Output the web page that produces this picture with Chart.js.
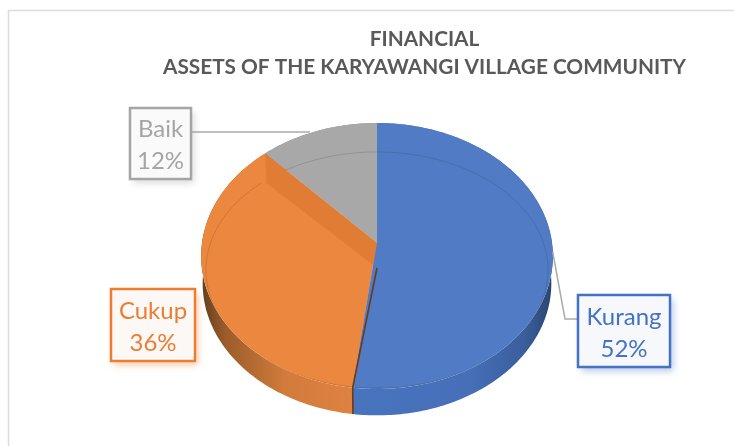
<!DOCTYPE html>
<html>
<head>
<meta charset="utf-8">
<style>
  html, body { margin: 0; padding: 0; background: #fff; }
  #wrap { width: 734px; height: 446px; position: relative; }
</style>
<script src="https://cdn.jsdelivr.net/npm/chart.js@4/dist/chart.umd.js"></script>
</head>
<body>
<div id="wrap"><canvas id="myChart" width="734" height="446"></canvas></div>
<script>
const categories = ["Kurang", "Cukup", "Baik"];
const shares = [52, 36, 12];
const titleLines = ["FINANCIAL", "ASSETS OF THE KARYAWANGI VILLAGE COMMUNITY"];

const sliceColors = ["#517CC5", "#EC8740", "#A8A8A8"];
const textColors = ["#4472C4", "#ED7D31", "#A5A5A5"];
const boxFills = ["#F6F8FC", "#FCF8F6", "#FAFAFA"];
// label boxes: left, top, right, bottom
const boxes = [[578, 295, 670, 367], [111, 289, 195, 361], [130, 108, 191, 179]];

// top face of the pie, seen in perspective
const topFace = { cx: 377, y0: 243, rx: 175, ry: 131.7, p: -0.0977, shift: 0 };
const innerFace = { cx: 377, y0: 268, rx: 171, ry: 118, p: -0.017, shift: 0 };
const bottomFace = { cx: 377, y0: 243, rx: 173.5, ry: 130.7, p: -0.0977, shift: 27.5 };

function project(face, angle) {
  let u = Math.cos(angle), v = Math.sin(angle);
  let w = 1 + face.p * v;
  return [face.cx + face.rx * u / w, face.y0 + face.shift + face.ry * v / w];
}

function arcPoints(face, a0, a1) {
  let pts = [];
  let n = Math.max(2, Math.ceil((a1 - a0) * 60));
  for (let i = 0; i <= n; i++) {
    pts.push(project(face, a0 + (a1 - a0) * i / n));
  }
  return pts;
}

function tracePts(ctx, pts) {
  pts.forEach((pt, i) => {
    if (i === 0) ctx.moveTo(pt[0], pt[1]);
    else ctx.lineTo(pt[0], pt[1]);
  });
}

function hGradient(ctx, stops) {
  let g = ctx.createLinearGradient(200, 0, 555, 0);
  stops.forEach((s) => g.addColorStop((s[0] - 200) / 355, s[1]));
  return g;
}

const pie3d = {
  id: "pie3d",
  beforeDraw(chart) {
    let ctx = chart.ctx;
    ctx.save();
    ctx.strokeStyle = "#DCDCDC";
    ctx.lineWidth = 1.5;
    ctx.beginPath();
    ctx.moveTo(8.5, 446);
    ctx.lineTo(8.5, 10.5);
    ctx.lineTo(734, 10.5);
    ctx.stroke();
    ctx.restore();
  },
  beforeDatasetDraw(chart, args) {
    let ctx = chart.ctx;
    let arcs = args.meta.data;
    let apex = [topFace.cx, topFace.y0];
    let innerApex = [innerFace.cx, innerFace.y0];

    ctx.save();

    // side wall
    let wallFills = [
      hGradient(ctx, [[356, "#4874BE"], [470, "#466FB8"], [525, "#3A5E9C"], [553, "#2A4470"]]),
      hGradient(ctx, [[200, "#5E3C1C"], [225, "#9A5C2A"], [285, "#D27B3B"], [356, "#DF8242"]]),
      "#8C8C8C"
    ];
    arcs.forEach((arc, i) => {
      ctx.beginPath();
      tracePts(ctx, arcPoints(topFace, arc.startAngle, arc.endAngle)
        .concat(arcPoints(bottomFace, arc.startAngle, arc.endAngle).reverse()));
      ctx.closePath();
      ctx.fillStyle = wallFills[i];
      ctx.fill();
    });

    // top faces, blue last so it covers the seam
    [2, 1, 0].forEach((i) => {
      let arc = arcs[i];
      ctx.beginPath();
      tracePts(ctx, [apex].concat(arcPoints(topFace, arc.startAngle, arc.endAngle)));
      ctx.closePath();
      ctx.fillStyle = sliceColors[i];
      ctx.fill();
    });

    let blueEnd = project(topFace, arcs[0].endAngle);
    let blueLow = project(bottomFace, arcs[0].endAngle);
    let orangeEnd = project(topFace, arcs[1].endAngle);
    let orangeInner = project(innerFace, arcs[1].endAngle);

    // cut face of the orange slice behind the apex
    ctx.beginPath();
    tracePts(ctx, [orangeEnd, apex, innerApex, [orangeInner[0] + 5, orangeInner[1]]]);
    ctx.closePath();
    ctx.fillStyle = "#E17C35";
    ctx.fill();

    // blue covers the step at the apex
    ctx.beginPath();
    tracePts(ctx, [apex, innerApex, blueEnd]);
    ctx.closePath();
    ctx.fillStyle = sliceColors[0];
    ctx.fill();

    // dark cut face between blue and orange
    ctx.beginPath();
    tracePts(ctx, [innerApex, blueEnd, blueLow]);
    ctx.strokeStyle = "#6A3C16";
    ctx.lineWidth = 1.6;
    ctx.stroke();

    // thin rim line of the inner face, kept inside each slice
    arcs.forEach((arc, i) => {
      ctx.save();
      ctx.beginPath();
      tracePts(ctx, [apex].concat(arcPoints(topFace, arc.startAngle, arc.endAngle)));
      ctx.closePath();
      ctx.clip();
      ctx.beginPath();
      tracePts(ctx, arcPoints(innerFace, arc.startAngle, arc.endAngle));
      ctx.strokeStyle = "rgba(40,40,40,0.2)";
      ctx.lineWidth = 0.8;
      ctx.stroke();
      ctx.restore();
    });

    ctx.restore();
    return false;
  },
  afterDatasetsDraw(chart) {
    let ctx = chart.ctx;
    let arcs = chart.getDatasetMeta(0).data;
    ctx.save();

    // leader lines
    ctx.strokeStyle = "#ABABAB";
    ctx.lineWidth = 1.5;
    ctx.beginPath();
    ctx.moveTo(191, 132);
    ctx.lineTo(310, 132);
    let kurangMid = project(topFace, (arcs[0].startAngle + arcs[0].endAngle) / 2);
    ctx.moveTo(kurangMid[0], 252);
    ctx.lineTo(565, 319);
    ctx.lineTo(578, 319);
    ctx.stroke();

    // data labels
    categories.forEach((name, i) => {
      let b = boxes[i];
      ctx.save();
      ctx.shadowColor = textColors[i] + "66";
      ctx.shadowBlur = 7;
      ctx.shadowOffsetX = 3;
      ctx.shadowOffsetY = 4;
      ctx.fillStyle = boxFills[i];
      ctx.fillRect(b[0], b[1], b[2] - b[0], b[3] - b[1]);
      ctx.restore();
      ctx.strokeStyle = textColors[i];
      ctx.lineWidth = 2.5;
      ctx.strokeRect(b[0], b[1], b[2] - b[0], b[3] - b[1]);
      ctx.fillStyle = textColors[i];
      ctx.font = "24px Lato";
      ctx.textAlign = "center";
      ctx.textBaseline = "middle";
      let mid = (b[0] + b[2]) / 2;
      let midY = (b[1] + b[3]) / 2;
      ctx.fillText(name, mid, midY - 14);
      ctx.fillText(shares[i] + "%", mid, midY + 18);
    });
    ctx.restore();
  }
};

let myChart = new Chart(document.getElementById("myChart").getContext("2d"), {
  type: "pie",
  data: {
    labels: categories,
    datasets: [{ data: shares, backgroundColor: sliceColors, borderWidth: 0 }]
  },
  options: {
    responsive: false,
    animation: false,
    layout: { padding: { left: 115 } },
    plugins: {
      legend: { display: false },
      tooltip: { enabled: false },
      title: {
        display: true,
        fullSize: false,
        text: titleLines,
        color: "#595959",
        font: { family: "Lato", size: 20.8, weight: "bold", lineHeight: 1.35 },
        padding: { top: 25.5, bottom: 10 }
      }
    }
  },
  plugins: [pie3d]
});
</script>
</body>
</html>
